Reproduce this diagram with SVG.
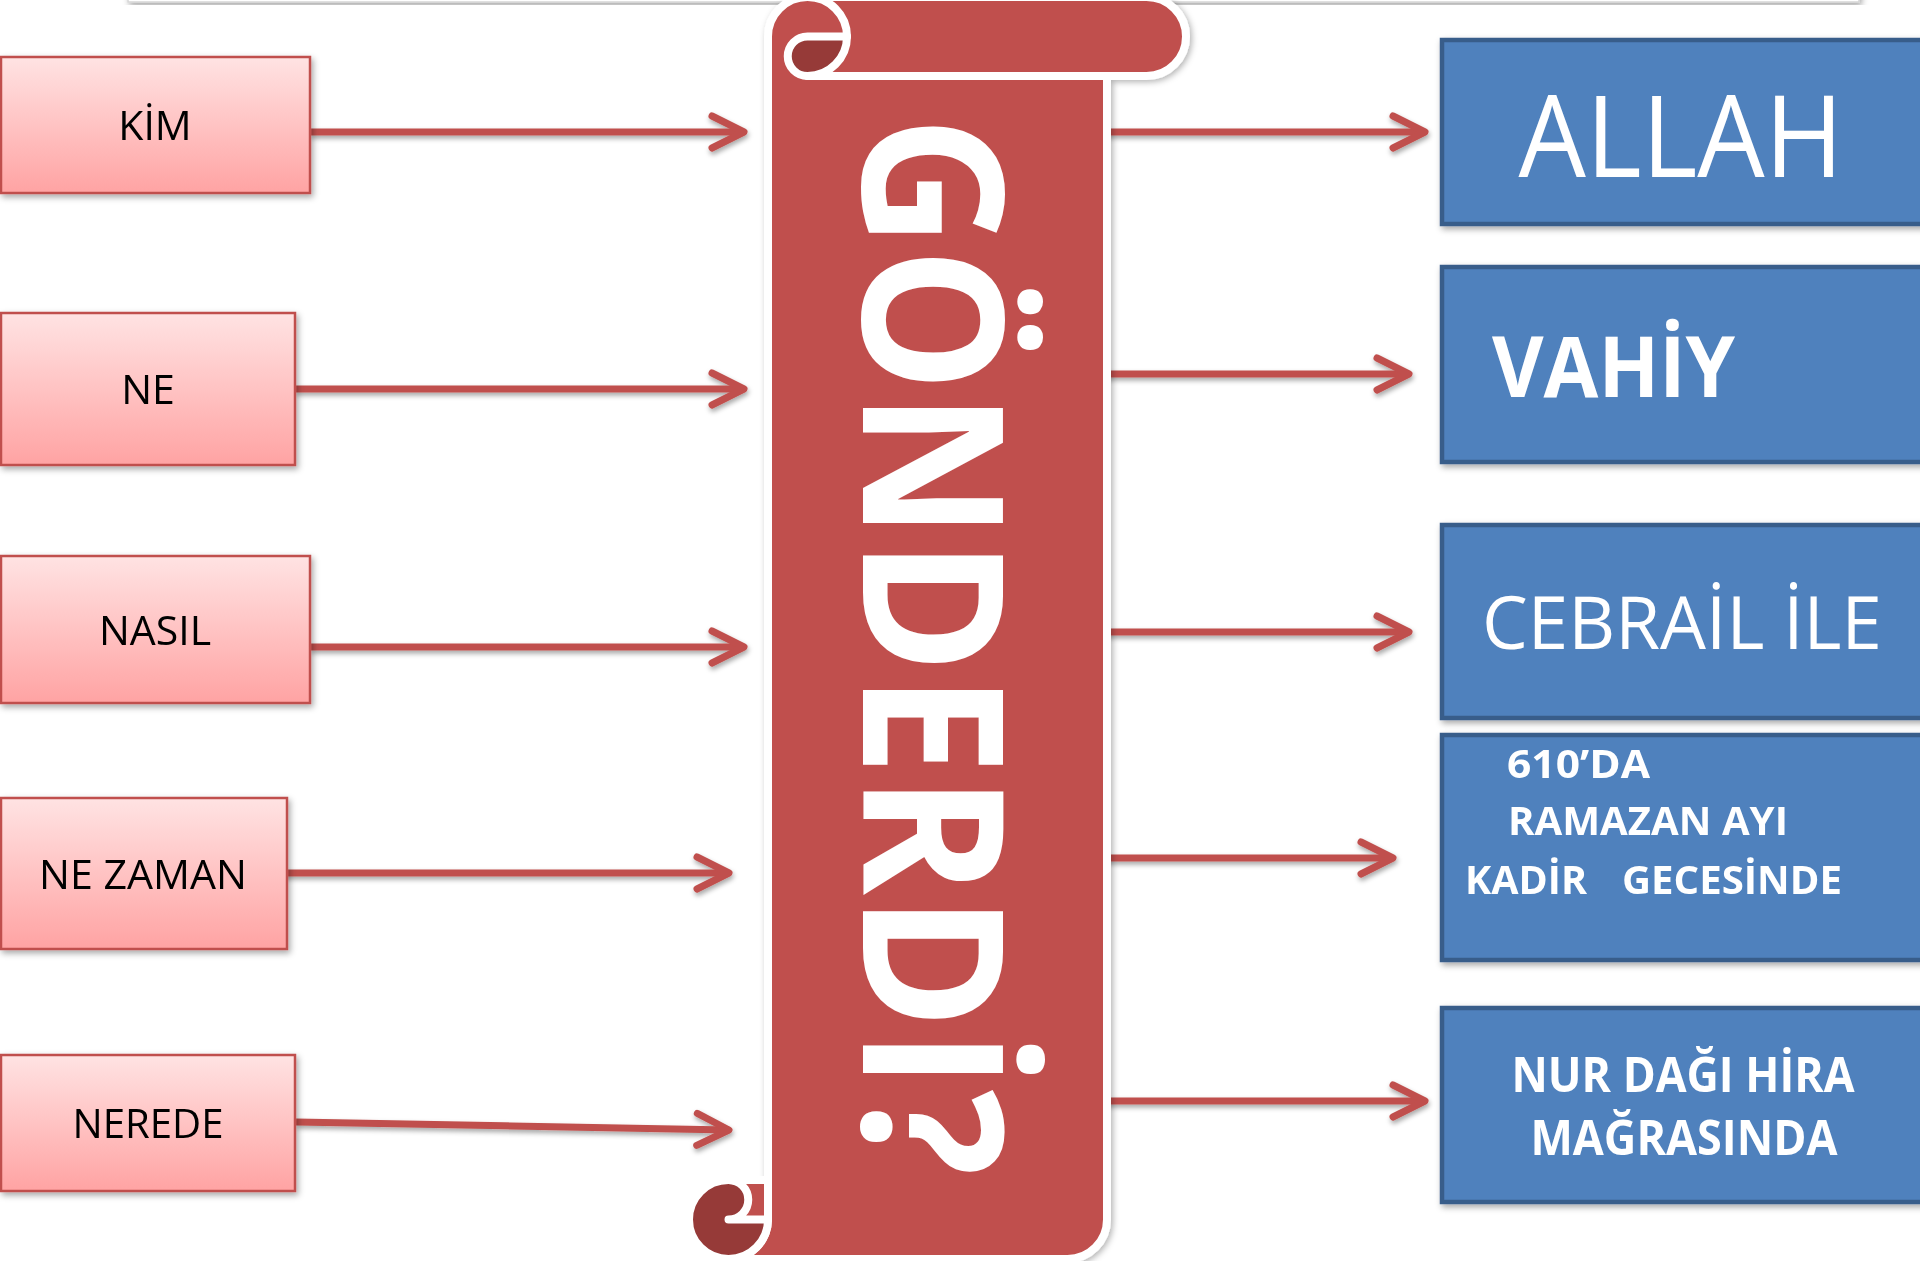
<svg xmlns="http://www.w3.org/2000/svg" width="1920" height="1261" viewBox="0 0 1920 1261">
<defs>
  <linearGradient id="pinkGrad" x1="0" y1="0" x2="0" y2="1">
    <stop offset="0" stop-color="#ffe3e3"/>
    <stop offset="1" stop-color="#ffa3a3"/>
  </linearGradient>
  <filter id="shadow" x="-10%" y="-10%" width="120%" height="130%">
    <feDropShadow dx="2" dy="3" stdDeviation="3" flood-color="#000" flood-opacity="0.35"/>
  </filter>
  <filter id="lineShadow" x="-5%" y="-50%" width="110%" height="200%">
    <feDropShadow dx="1" dy="3" stdDeviation="2.5" flood-color="#000" flood-opacity="0.35"/>
  </filter>
  <filter id="glow" x="-10%" y="-5%" width="120%" height="110%">
    <feDropShadow dx="2" dy="2" stdDeviation="3" flood-color="#000" flood-opacity="0.3"/>
  </filter>
  <marker id="chev" markerUnits="userSpaceOnUse" viewBox="-40 -25 50 50" refX="0" refY="0" markerWidth="50" markerHeight="50" orient="auto">
    <path d="M -32 -16 L 0 0 L -32 16" fill="none" stroke="#c0504d" stroke-width="7" stroke-linecap="round" stroke-linejoin="round"/>
  </marker>
  <style>
    .lbox { fill: url(#pinkGrad); stroke: #c0504d; stroke-width: 2.5; }
    .rbox { fill: #4f81bd; stroke: #385d8a; stroke-width: 4.5; }
    .ltxt { font-family: "Open Sans", "Liberation Sans", sans-serif; font-size: 41px; fill: #000; text-anchor: middle; }
    .rtxt { font-family: "Open Sans", "Liberation Sans", sans-serif; fill: #fff; }
    .b { font-weight: bold; }
    .conn { stroke: #c0504d; stroke-width: 7; fill: none; marker-end: url(#chev); }
    .scrollRed { fill: #c0504d; stroke: #fff; stroke-width: 8; stroke-linejoin: round; }
    .scrollDark { fill: #963a38; stroke: #fff; stroke-width: 8; stroke-linejoin: round; }
    .wline { fill: none; stroke: #fff; stroke-width: 8; stroke-linecap: round; }
  </style>
</defs>

<rect width="1920" height="1261" fill="#ffffff"/>

<!-- top decorative bar -->
<g id="topbar" filter="url(#shadow)">
  <rect x="128" y="-12" width="1731" height="14" fill="#ffffff" stroke="#d6d6d6" stroke-width="1.5"/>
</g>

<!-- connectors -->
<g id="connectors" filter="url(#lineShadow)">
  <path class="conn" d="M 310 132 L 744 132"/>
  <path class="conn" d="M 295 389 L 744 389"/>
  <path class="conn" d="M 310 647 L 744 647"/>
  <path class="conn" d="M 280 873 L 729 873"/>
  <path class="conn" d="M 296 1122 L 729 1130"/>
  <path class="conn" d="M 1100 132 L 1425 132"/>
  <path class="conn" d="M 1100 374 L 1409 374"/>
  <path class="conn" d="M 1100 632 L 1409 632"/>
  <path class="conn" d="M 1100 858 L 1393 858"/>
  <path class="conn" d="M 1100 1101 L 1425 1101"/>
</g>

<!-- left boxes -->
<g id="kim" filter="url(#shadow)">
  <rect class="lbox" x="1" y="57" width="309" height="136"/>
  <text class="ltxt" x="155" y="140">KİM</text>
</g>
<g id="ne" filter="url(#shadow)">
  <rect class="lbox" x="1" y="313" width="294" height="152"/>
  <text class="ltxt" x="148" y="404">NE</text>
</g>
<g id="nasil" filter="url(#shadow)">
  <rect class="lbox" x="1" y="556" width="309" height="147"/>
  <text class="ltxt" x="155" y="645">NASIL</text>
</g>
<g id="nezaman" filter="url(#shadow)">
  <rect class="lbox" x="1" y="798" width="286" height="151"/>
  <text class="ltxt" x="143" y="889" textLength="208" lengthAdjust="spacingAndGlyphs">NE ZAMAN</text>
</g>
<g id="nerede" filter="url(#shadow)">
  <rect class="lbox" x="1" y="1055" width="294" height="136"/>
  <text class="ltxt" x="148" y="1138" textLength="151" lengthAdjust="spacingAndGlyphs">NEREDE</text>
</g>

<!-- central scroll -->
<g id="scroll">
  <g filter="url(#glow)">
    <path class="scrollRed" d="M 728.5 1259 A 39.5 39.5 0 0 0 768 1219.5 L 768 36.5 A 39.5 39.5 0 0 1 807.5 -3 L 1146.5 -3 A 39.5 39.5 0 0 1 1146.5 76 L 1107 76 L 1107 1219.5 A 39.5 39.5 0 0 1 1067.5 1259 Z"/>
  </g>
  <circle class="scrollDark" cx="728.5" cy="1219.5" r="39.5"/>
  <path class="scrollRed" d="M 728.5 1219.5 A 19.75 19.75 0 0 0 728.5 1180 L 768 1180 L 768 1219.5 Z"/>
  <path class="scrollDark" d="M 847 36.5 A 39.5 39.5 0 0 1 807.5 76 A 19.75 19.75 0 0 1 807.5 36.5 Z"/>
  <path class="wline" d="M 807.5 76 L 1107 76"/>
  <path class="wline" d="M 807.5 -3 A 39.5 39.5 0 0 1 847 36.5"/>
  <text transform="translate(863,116) rotate(90)" x="0" y="0" font-family="'Open Sans', 'Liberation Sans', sans-serif" font-weight="bold" font-size="196" fill="#ffffff" textLength="1060" lengthAdjust="spacingAndGlyphs">GÖNDERDİ?</text>
</g>

<!-- right boxes -->
<g id="allah" filter="url(#shadow)">
  <rect class="rbox" x="1442" y="40" width="500" height="184"/>
  <text class="rtxt" x="1681" y="177" font-size="114" text-anchor="middle" textLength="325" lengthAdjust="spacingAndGlyphs">ALLAH</text>
</g>
<g id="vahiy" filter="url(#shadow)">
  <rect class="rbox" x="1442" y="267" width="500" height="195"/>
  <text class="rtxt b" x="1492" y="397" font-size="84" textLength="243" lengthAdjust="spacingAndGlyphs">VAHİY</text>
</g>
<g id="cebrail" filter="url(#shadow)">
  <rect class="rbox" x="1442" y="525" width="500" height="193"/>
  <text class="rtxt" x="1482" y="649" font-size="73" textLength="400" lengthAdjust="spacingAndGlyphs">CEBRAİL İLE</text>
</g>
<g id="zaman" filter="url(#shadow)">
  <rect class="rbox" x="1442" y="735" width="500" height="225"/>
  <text class="rtxt b" x="1507" y="778" font-size="40" textLength="143" lengthAdjust="spacingAndGlyphs">610’DA</text>
  <text class="rtxt b" x="1508" y="835" font-size="40" textLength="280" lengthAdjust="spacingAndGlyphs">RAMAZAN AYI</text>
  <text class="rtxt b" x="1465" y="894" font-size="40" textLength="122" lengthAdjust="spacingAndGlyphs">KADİR</text>
  <text class="rtxt b" x="1622" y="894" font-size="40" textLength="220" lengthAdjust="spacingAndGlyphs">GECESİNDE</text>
</g>
<g id="nurdagi" filter="url(#shadow)">
  <rect class="rbox" x="1442" y="1008" width="500" height="194"/>
  <text class="rtxt b" x="1683" y="1092" font-size="48" text-anchor="middle" textLength="343" lengthAdjust="spacingAndGlyphs">NUR DAĞI HİRA</text>
  <text class="rtxt b" x="1684" y="1155" font-size="48" text-anchor="middle" textLength="307" lengthAdjust="spacingAndGlyphs">MAĞRASINDA</text>
</g>
</svg>
